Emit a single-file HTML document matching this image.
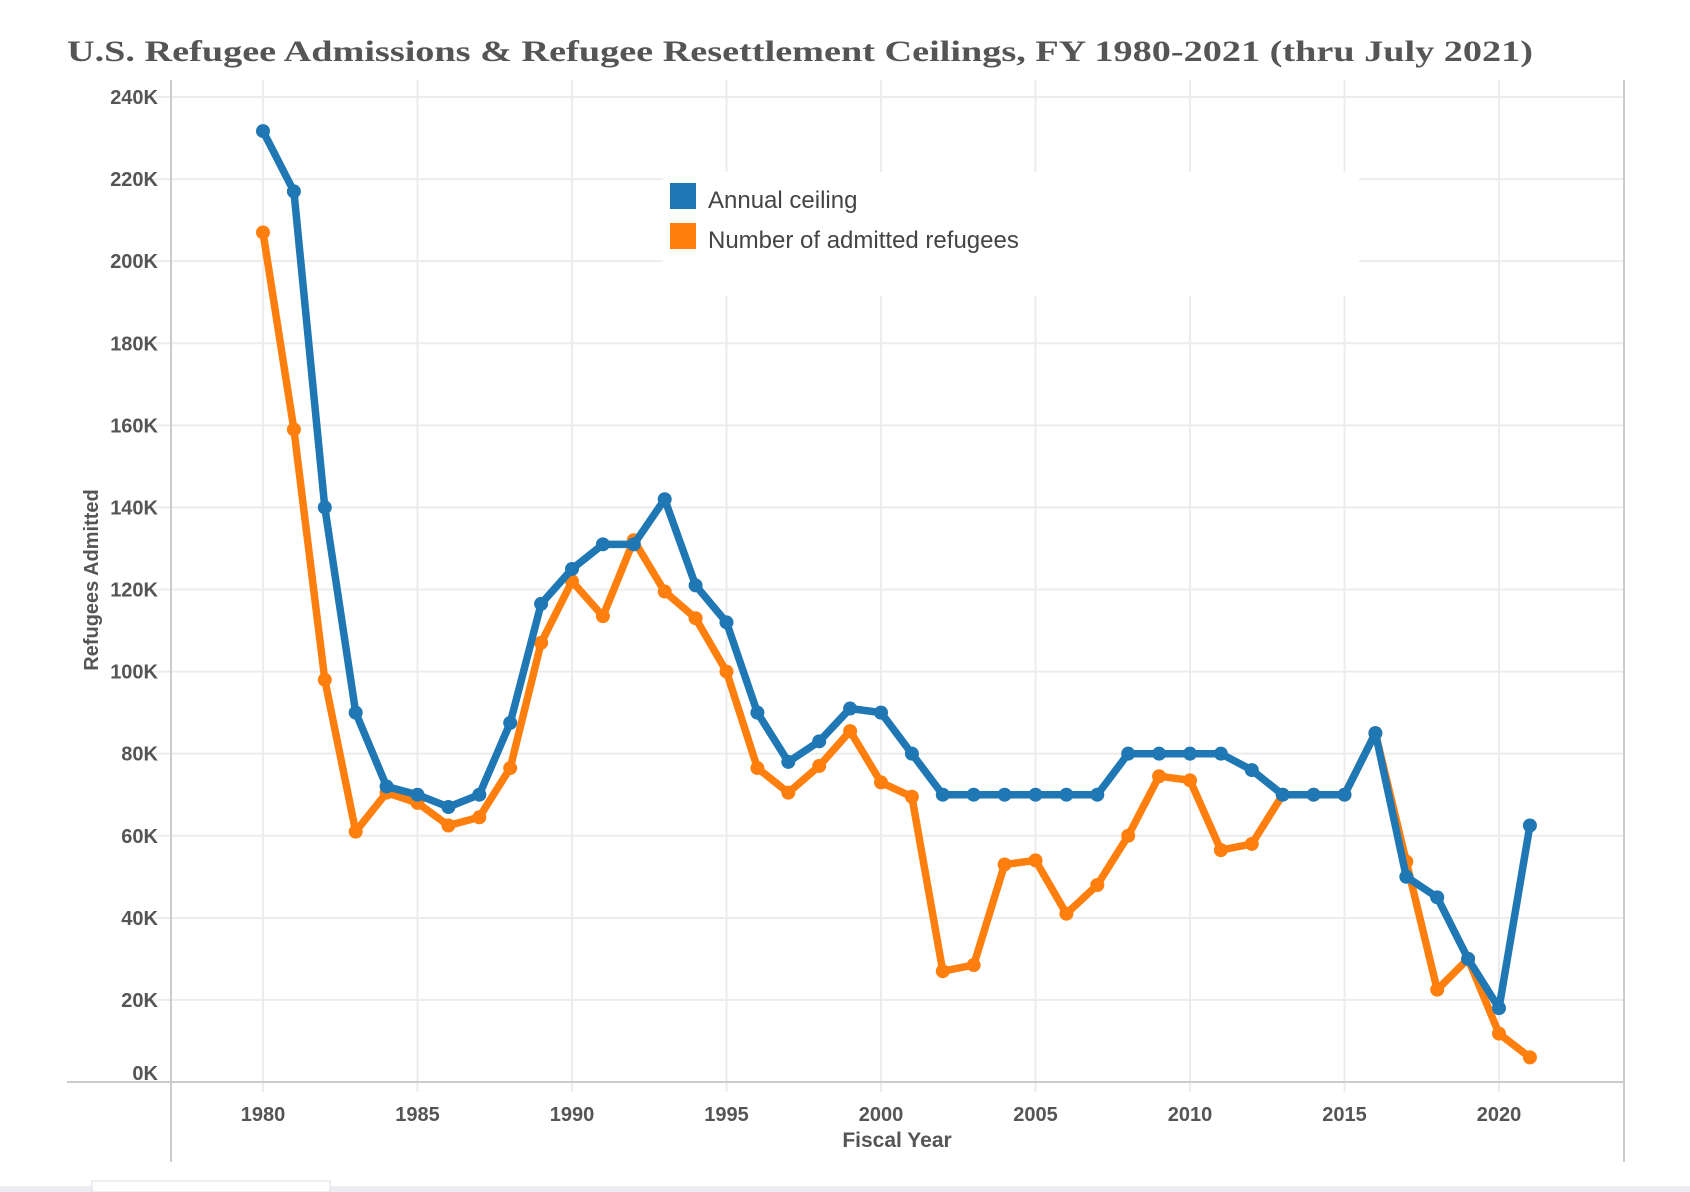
<!DOCTYPE html>
<html><head><meta charset="utf-8"><style>
html,body{margin:0;padding:0;background:#fff;}
svg{display:block;}
text{font-family:"Liberation Sans",sans-serif;}
text.serif{font-family:"Liberation Serif",serif;}
</style></head><body>
<svg id="chart" width="1690" height="1192" viewBox="0 0 1690 1192" xmlns="http://www.w3.org/2000/svg">
<text class="serif" x="67" y="61" font-weight="bold" font-size="30" fill="#555" textLength="1466" lengthAdjust="spacingAndGlyphs">U.S. Refugee Admissions &amp; Refugee Resettlement Ceilings, FY 1980-2021 (thru July 2021)</text>
<g id="grid"></g>
<g id="axes"></g>
<rect x="663" y="172" width="696" height="124" fill="#fff"/>
<g id="series"></g>
<g>
<rect x="670" y="183" width="26" height="26" fill="#1f77b4"/>
<text x="708" y="208" font-size="24" fill="#444">Annual ceiling</text>
<rect x="670" y="223" width="26" height="26" fill="#ff7f0e"/>
<text x="708" y="248" font-size="24" fill="#444">Number of admitted refugees</text>
</g>
<text x="897" y="1147" text-anchor="middle" font-weight="bold" font-size="21" fill="#555">Fiscal Year</text>
<text transform="translate(98,580) rotate(-90)" text-anchor="middle" font-weight="bold" font-size="20" fill="#555">Refugees Admitted</text>
<rect x="0" y="1186" width="1690" height="6" fill="#ececf2"/>
<rect x="92" y="1181" width="238" height="11" fill="#fff" stroke="#ddd"/>
</svg>
<script>
const years = [1980,1981,1982,1983,1984,1985,1986,1987,1988,1989,1990,1991,1992,1993,1994,1995,1996,1997,1998,1999,2000,2001,2002,2003,2004,2005,2006,2007,2008,2009,2010,2011,2012,2013,2014,2015,2016,2017,2018,2019,2020,2021];
const ceiling = [231.7,217,140,90,72,70,67,70,87.5,116.5,125,131,131,142,121,112,90,78,83,91,90,80,70,70,70,70,70,70,80,80,80,80,76,70,70,70,85,50,45,30,18,62.5];
const admitted = [207,159,98,61,70.5,68,62.5,64.5,76.5,107,122,113.5,132,119.5,113,100,76.5,70.5,77,85.5,73,69.5,27,28.5,53,54,41,48,60,74.5,73.5,56.5,58,70,70,70,85,53.7,22.5,30,11.8,6];
const yTicks = [0,20,40,60,80,100,120,140,160,180,200,220,240];
const xTicks = [1980,1985,1990,1995,2000,2005,2010,2015,2020];

const NS='http://www.w3.org/2000/svg';
const x = yr => 263 + (yr-1980)*30.9;
const y = v => 1082 - v*(985/240);
function mk(tag, attrs, parent){const e=document.createElementNS(NS,tag);for(const k in attrs)e.setAttribute(k,attrs[k]);parent.appendChild(e);return e;}
const grid=document.getElementById('grid'), axes=document.getElementById('axes'), series=document.getElementById('series');

yTicks.forEach(v=>{
  const l=mk('line',{x1:150,x2:1624,y1:y(v),y2:y(v),stroke:'#ececec','stroke-width':2},grid);
  
  
  const ty = v===0 ? y(v)-2 : y(v)+7;
  const t=mk('text',{x:158,y:ty,'text-anchor':'end','font-weight':'bold','font-size':20,fill:'#555'},axes);
  t.textContent=v+'K';
  
  
});
xTicks.forEach(yr=>{
  const l=mk('line',{x1:x(yr),x2:x(yr),y1:80,y2:1092,stroke:'#ececec','stroke-width':2},grid);
  
  
  const t=mk('text',{x:x(yr),y:1121,'text-anchor':'middle','font-weight':'bold','font-size':20,fill:'#555'},axes);
  t.textContent=yr;
  
  
});
let a=mk('line',{x1:67,x2:1624,y1:1082,y2:1082,stroke:'#ccc','stroke-width':2},axes);


a=mk('line',{x1:171,x2:171,y1:80,y2:1162,stroke:'#ccc','stroke-width':2},axes);


a=mk('line',{x1:1624,x2:1624,y1:80,y2:1162,stroke:'#ccc','stroke-width':2},axes);



function drawSeries(vals,color,name){
  const d=vals.map((v,i)=>(i?'L':'M')+x(years[i]).toFixed(1)+','+y(v).toFixed(1)).join(' ');
  const p=mk('path',{d:d,fill:'none',stroke:color,'stroke-width':7.5,'stroke-linejoin':'round'},series);
  
  
  vals.forEach((v,i)=>{
    const c=mk('circle',{cx:x(years[i]),cy:y(v),r:7,fill:color},series);
    
    
  });
}
drawSeries(admitted,'#ff7f0e','admitted');
drawSeries(ceiling,'#1f77b4','ceiling');
</script>
</body></html>
